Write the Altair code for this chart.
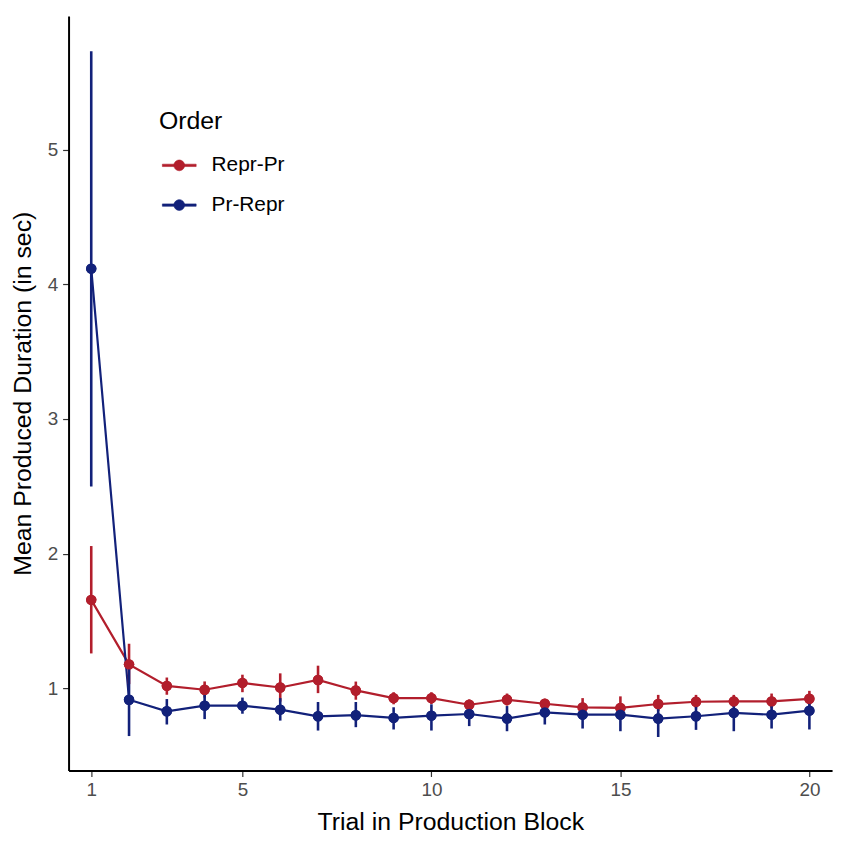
import altair as alt
import pandas as pd

trials = list(range(1, 21))
orders = ["Repr-Pr", "Pr-Repr"]

red_mean = [1.656, 1.177, 1.017, 0.988, 1.039, 1.005, 1.061, 0.983, 0.926, 0.926,
            0.877, 0.914, 0.884, 0.857, 0.853, 0.882, 0.899, 0.902, 0.902, 0.921]
red_lo = [1.258, 1.030, 0.951, 0.930, 0.970, 0.900, 0.963, 0.914, 0.880, 0.882,
          0.840, 0.870, 0.850, 0.810, 0.800, 0.830, 0.850, 0.860, 0.850, 0.870]
red_hi = [2.056, 1.330, 1.079, 1.050, 1.100, 1.110, 1.167, 1.049, 0.970, 0.970,
          0.915, 0.960, 0.920, 0.926, 0.939, 0.950, 0.950, 0.950, 0.960, 0.980]

blue_mean = [4.117, 0.914, 0.828, 0.870, 0.870, 0.840, 0.791, 0.799, 0.779, 0.796,
             0.808, 0.774, 0.820, 0.803, 0.803, 0.774, 0.791, 0.816, 0.803, 0.833]
blue_lo = [2.498, 0.644, 0.730, 0.770, 0.810, 0.759, 0.685, 0.710, 0.693, 0.685,
           0.718, 0.680, 0.730, 0.700, 0.680, 0.637, 0.690, 0.680, 0.700, 0.693]
blue_hi = [5.733, 1.180, 0.919, 0.950, 0.930, 0.926, 0.897, 0.897, 0.858, 0.880,
           0.867, 0.867, 0.880, 0.872, 0.870, 0.853, 0.870, 0.897, 0.880, 0.914]

x_ticks = [1, 5, 10, 15, 20]
y_ticks = [1, 2, 3, 4, 5]

rows = []
for name, m, lo, hi in [("Repr-Pr", red_mean, red_lo, red_hi),
                        ("Pr-Repr", blue_mean, blue_lo, blue_hi)]:
    for t, a, b, c in zip(trials, m, lo, hi):
        rows.append({"trial": t, "order": name, "mean": a, "lo": b, "hi": c})
df = pd.DataFrame(rows)

FONT = "Liberation Sans"
colors = ["#B21E2C", "#12217A"]

x_enc = alt.X("trial:Q",
              scale=alt.Scale(domain=[0.4, 20.6], nice=False, zero=False),
              axis=alt.Axis(values=x_ticks, format="d", title="Trial in Production Block",
                            grid=False, labelFontSize=19, titleFontSize=25,
                            labelColor="#4D4D4D", titleColor="#000000", labelPadding=4,
                            titlePadding=10, tickSize=6, tickColor="#333333", tickWidth=1.2,
                            domainColor="#000000", domainWidth=2, labelFont=FONT,
                            titleFont=FONT, titleFontWeight="normal"))
y_enc = alt.Y("mean:Q",
              scale=alt.Scale(domain=[0.388, 5.995], nice=False, zero=False),
              axis=alt.Axis(values=y_ticks, format="d", title="Mean Produced Duration (in sec)",
                            grid=False, labelFontSize=19, titleFontSize=25,
                            labelColor="#4D4D4D", titleColor="#000000", labelPadding=5,
                            titlePadding=12, tickSize=6, tickColor="#333333", tickWidth=1.2,
                            domainColor="#000000", domainWidth=2, labelFont=FONT,
                            titleFont=FONT, titleFontWeight="normal"))

color_scale = alt.Scale(domain=orders, range=colors)

sym_path = ("M-1,-0.07L-0.3,-0.07L-0.3,0.07L-1,0.07Z "
            "M0.3,-0.07L1,-0.07L1,0.07L0.3,0.07Z "
            "M-0.32,0A0.32,0.32,0,1,1,0.32,0A0.32,0.32,0,1,1,-0.32,0Z")

legend = alt.Legend(title="Order", orient="none", legendX=91, legendY=94,
                    symbolType=sym_path, symbolSize=1156, symbolStrokeWidth=0.6,
                    symbolOffset=3, labelOffset=15, rowPadding=12, titlePadding=14,
                    titleFontSize=25, labelFontSize=21, titleFont=FONT, labelFont=FONT,
                    titleFontWeight="normal", titleColor="#000000", labelColor="#000000",
                    padding=0)

color_enc = alt.Color("order:N", scale=color_scale, legend=legend, sort=orders)

base = alt.Chart(df)

points = base.mark_point(filled=True, size=110, opacity=1).encode(
    x=x_enc, y=y_enc, color=color_enc,
)

lines = base.mark_line(strokeWidth=2.2).encode(
    x="trial:Q", y="mean:Q", color=color_enc,
)

bars = base.mark_rule(strokeWidth=2.6).encode(
    x="trial:Q", y="lo:Q", y2="hi:Q", color=color_enc,
)

chart = alt.layer(points, lines, bars, points).properties(
    width=769, height=760,
    background="#FFFFFF",
    autosize=alt.AutoSizeParams(type="none"),
    padding={"left": 61, "top": 5, "right": 10, "bottom": 70},
).configure_view(stroke=None)

chart.save("out.html", embed_options={"renderer": "svg", "actions": False})
